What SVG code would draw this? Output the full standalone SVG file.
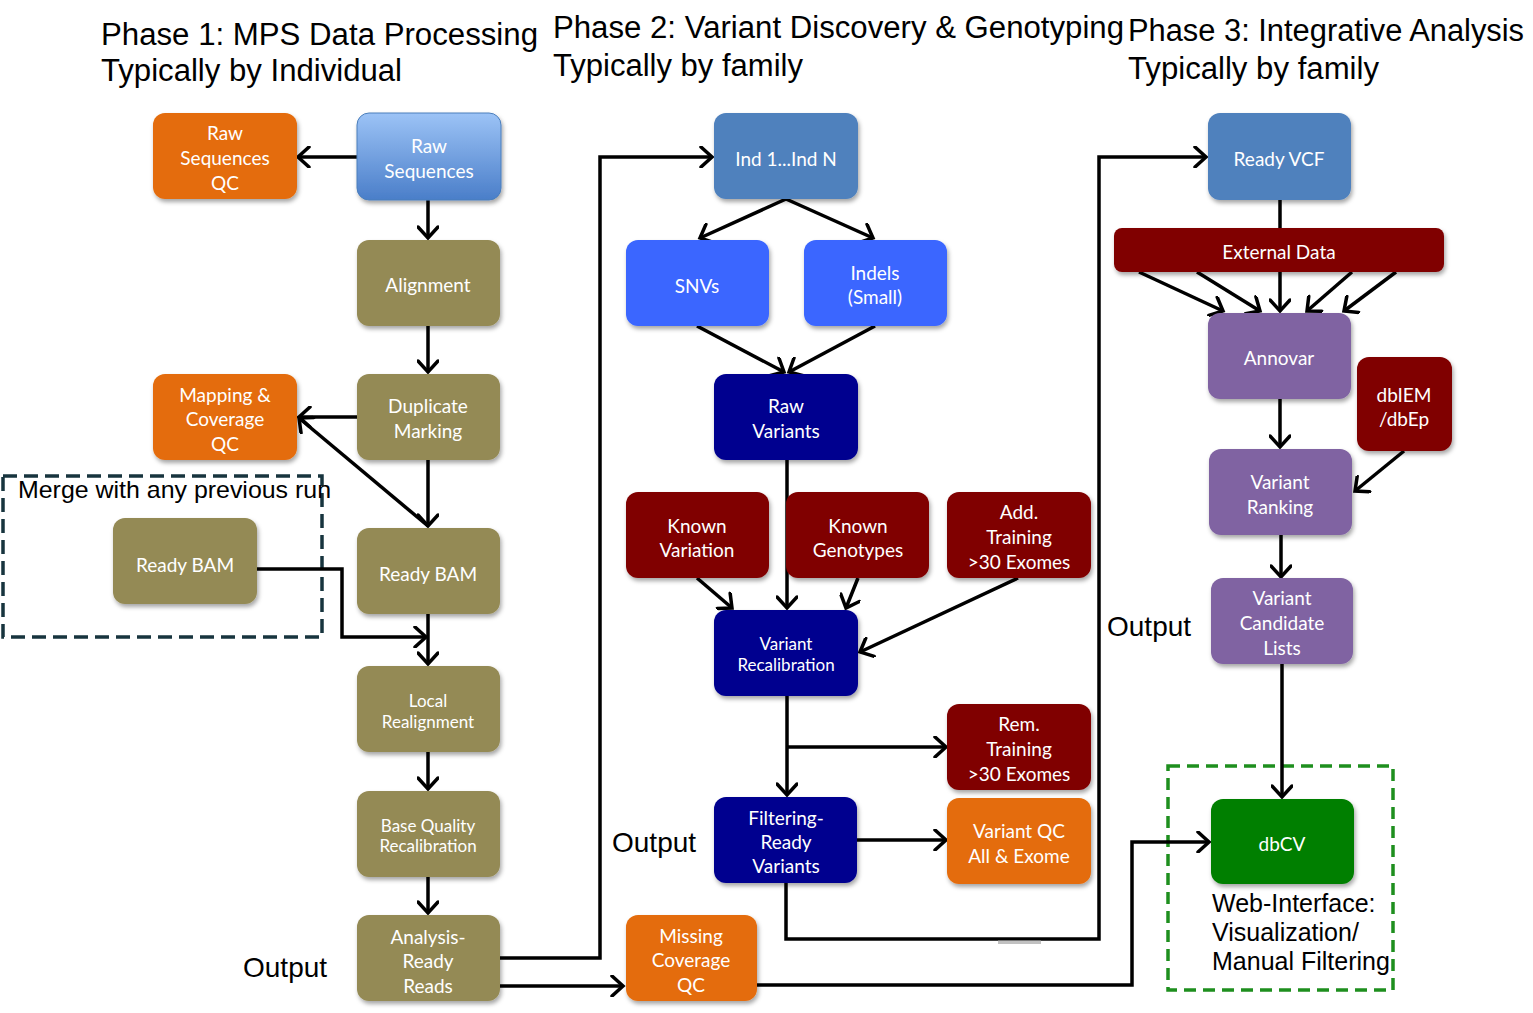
<svg xmlns="http://www.w3.org/2000/svg" width="1533" height="1013" viewBox="0 0 1533 1013">
<style>
.t{font-family:Lato,"Open Sans","Liberation Sans",sans-serif;fill:#fff;text-anchor:middle;font-size:19px}
.s{font-size:17px}
.ttl{font-family:"Liberation Sans",Arial,sans-serif;font-size:31px;fill:#000}
.lbl{font-family:"Liberation Sans",Arial,sans-serif;font-size:28px;fill:#000}
.web{font-family:"Liberation Sans",Arial,sans-serif;font-size:25px;fill:#000}
.bx{filter:url(#sh)}
.or{fill:#E46C0A}.ol{fill:#948A54}.bl{fill:#4F81BD}.br{fill:#3A66FF}.nv{fill:#00008F}.mr{fill:#800000}.pu{fill:#8064A2}.gr{fill:#007F00}
.c{fill:none;stroke:#000;stroke-width:3.5;marker-end:url(#ah)}
.cn{fill:none;stroke:#000;stroke-width:3.5}
</style>
<defs>
<marker id="ah" viewBox="0 0 16 22" refX="13" refY="11" markerWidth="16" markerHeight="22" markerUnits="userSpaceOnUse" orient="auto">
<path d="M2,1 L13,11 L2,21" fill="none" stroke="#000" stroke-width="3.5" stroke-linecap="round" stroke-linejoin="miter"/>
</marker>
<filter id="sh" x="-10%" y="-10%" width="125%" height="130%">
<feDropShadow dx="1.5" dy="3" stdDeviation="2" flood-color="#000" flood-opacity="0.35"/>
</filter>
<linearGradient id="g1" x1="0" y1="0" x2="0" y2="1">
<stop offset="0" stop-color="#9CC3F6"/>
<stop offset="1" stop-color="#4A7EC9"/>
</linearGradient>
</defs>
<rect width="1533" height="1013" fill="#fff"/>

<g id="titles">
<text class="ttl" x="101" y="45" textLength="437" lengthAdjust="spacingAndGlyphs">Phase 1: MPS Data Processing</text>
<text class="ttl" x="101" y="81" textLength="301" lengthAdjust="spacingAndGlyphs">Typically by Individual</text>
<text class="ttl" x="553" y="38" textLength="571" lengthAdjust="spacingAndGlyphs">Phase 2: Variant Discovery &amp; Genotyping</text>
<text class="ttl" x="553" y="76" textLength="250" lengthAdjust="spacingAndGlyphs">Typically by family</text>
<text class="ttl" x="1128" y="41" textLength="396" lengthAdjust="spacingAndGlyphs">Phase 3: Integrative Analysis</text>
<text class="ttl" x="1128" y="79" textLength="251" lengthAdjust="spacingAndGlyphs">Typically by family</text>
<text class="lbl" x="243" y="977">Output</text>
<text class="lbl" x="612" y="852">Output</text>
<text class="lbl" x="1107" y="636">Output</text>
</g>

<g id="merge-group">
<rect x="3" y="476" width="319" height="161" fill="none" stroke="#17343E" stroke-width="3.5" stroke-dasharray="14 7"/>
<text x="18" y="498" font-family="Liberation Sans, Arial, sans-serif" font-size="24" textLength="313" lengthAdjust="spacingAndGlyphs">Merge with any previous run</text>
</g>
<g id="web-group">
<rect x="1168" y="766" width="225" height="224" fill="none" stroke="#1E8F1E" stroke-width="3.5" stroke-dasharray="12 7"/>
<text class="web" x="1212" y="912">Web-Interface:</text>
<text class="web" x="1212" y="941">Visualization/</text>
<text class="web" x="1212" y="970">Manual Filtering</text>
</g>

<g id="connectors">
<path class="c" d="M357,157 H298"/>
<path class="c" d="M428,200 V238"/>
<path class="c" d="M428,326 V372"/>
<path class="c" d="M357,417 H299"/>
<path class="c" d="M428,460 V526"/>
<path class="c" d="M428,526 L299,418"/>
<path class="c" d="M257,569 H342 V637 H426"/>
<path class="c" d="M428,614 V664"/>
<path class="c" d="M428,752 V789"/>
<path class="c" d="M428,877 V913"/>
<path class="c" d="M500,958 H600 V157 H712"/>
<path class="c" d="M500,986 H623"/>
<path class="c" d="M757,985 H1132 V842 H1209"/>
<path class="c" d="M786,199 L700,238"/>
<path class="c" d="M786,199 L873,238"/>
<path class="c" d="M697,326 L784,372"/>
<path class="c" d="M875,326 L789,372"/>
<path class="c" d="M787,460 V608"/>
<path class="c" d="M697,578 L732,608"/>
<path class="c" d="M858,578 L846,608"/>
<path class="c" d="M1018,578 L860,652"/>
<path class="c" d="M787,696 V795"/>
<path class="c" d="M787,747 H946"/>
<path class="c" d="M857,840 H946"/>
<path class="c" d="M786,883 V939 H1099 V157 H1206"/>
<path d="M998,942 H1041" stroke="#999" stroke-width="4" opacity="0.6"/>
<path class="cn" d="M1280,200 V228"/>
<path class="c" d="M1139,272 L1223,311"/>
<path class="c" d="M1197,272 L1260,311"/>
<path class="c" d="M1280,272 V311"/>
<path class="c" d="M1352,272 L1307,311"/>
<path class="c" d="M1396,272 L1344,311"/>
<path class="c" d="M1280,399 V447"/>
<path class="c" d="M1404,451 L1355,491"/>
<path class="c" d="M1281,535 V577"/>
<path class="c" d="M1282,664 V797"/>
</g>

<g id="raw-seq-qc"><rect class="bx or" x="153" y="113" width="144" height="86" rx="12"/>
<text class="t" x="225" y="140">Raw</text><text class="t" x="225" y="165">Sequences</text><text class="t" x="225" y="190">QC</text></g>
<g id="raw-seq"><rect class="bx" x="357" y="113" width="144" height="87" rx="12" fill="url(#g1)" stroke="#4A7EBB" stroke-width="1"/>
<text class="t" x="429" y="153">Raw</text><text class="t" x="429" y="178">Sequences</text></g>
<g id="alignment"><rect class="bx ol" x="357" y="240" width="143" height="86" rx="12"/>
<text class="t" x="428" y="292">Alignment</text></g>
<g id="mapping-qc"><rect class="bx or" x="153" y="374" width="144" height="86" rx="12"/>
<text class="t" x="225" y="402">Mapping &amp;</text><text class="t" x="225" y="426">Coverage</text><text class="t" x="225" y="451">QC</text></g>
<g id="dup-marking"><rect class="bx ol" x="357" y="374" width="143" height="86" rx="12"/>
<text class="t" x="428" y="413">Duplicate</text><text class="t" x="428" y="438">Marking</text></g>
<g id="ready-bam"><rect class="bx ol" x="357" y="528" width="143" height="86" rx="12"/>
<text class="t" x="428" y="581">Ready BAM</text></g>
<g id="ready-bam-prev"><rect class="bx ol" x="113" y="518" width="144" height="86" rx="12"/>
<text class="t" x="185" y="572">Ready BAM</text></g>
<g id="local-realign"><rect class="bx ol" x="357" y="666" width="143" height="86" rx="12"/>
<text class="t s" x="428" y="707">Local</text><text class="t s" x="428" y="728">Realignment</text></g>
<g id="base-recal"><rect class="bx ol" x="357" y="791" width="143" height="86" rx="12"/>
<text class="t s" x="428" y="832">Base Quality</text><text class="t s" x="428" y="852">Recalibration</text></g>
<g id="analysis-ready"><rect class="bx ol" x="357" y="915" width="143" height="86" rx="12"/>
<text class="t" x="428" y="944">Analysis-</text><text class="t" x="428" y="968">Ready</text><text class="t" x="428" y="993">Reads</text></g>

<g id="ind"><rect class="bx bl" x="714" y="113" width="144" height="86" rx="12"/>
<text class="t" x="786" y="166">Ind 1...Ind N</text></g>
<g id="snvs"><rect class="bx br" x="626" y="240" width="143" height="86" rx="12"/>
<text class="t" x="697" y="293">SNVs</text></g>
<g id="indels"><rect class="bx br" x="804" y="240" width="143" height="86" rx="12"/>
<text class="t" x="875" y="280">Indels</text><text class="t" x="875" y="304">(Small)</text></g>
<g id="raw-variants"><rect class="bx nv" x="714" y="374" width="144" height="86" rx="12"/>
<text class="t" x="786" y="413">Raw</text><text class="t" x="786" y="438">Variants</text></g>
<g id="known-variation"><rect class="bx mr" x="626" y="492" width="143" height="86" rx="12"/>
<text class="t" x="697" y="533">Known</text><text class="t" x="697" y="557">Variation</text></g>
<g id="known-genotypes"><rect class="bx mr" x="786" y="492" width="143" height="86" rx="12"/>
<text class="t" x="858" y="533">Known</text><text class="t" x="858" y="557">Genotypes</text></g>
<g id="add-training"><rect class="bx mr" x="947" y="492" width="144" height="86" rx="12"/>
<text class="t" x="1019" y="519">Add.</text><text class="t" x="1019" y="544">Training</text><text class="t" x="1019" y="569">&gt;30 Exomes</text></g>
<g id="variant-recal"><rect class="bx nv" x="714" y="610" width="144" height="86" rx="12"/>
<text class="t s" x="786" y="650">Variant</text><text class="t s" x="786" y="671">Recalibration</text></g>
<g id="rem-training"><rect class="bx mr" x="947" y="704" width="144" height="86" rx="12"/>
<text class="t" x="1019" y="731">Rem.</text><text class="t" x="1019" y="756">Training</text><text class="t" x="1019" y="781">&gt;30 Exomes</text></g>
<g id="filtering-ready"><rect class="bx nv" x="714" y="797" width="143" height="86" rx="12"/>
<text class="t" x="786" y="825">Filtering-</text><text class="t" x="786" y="849">Ready</text><text class="t" x="786" y="873">Variants</text></g>
<g id="variant-qc"><rect class="bx or" x="947" y="798" width="144" height="86" rx="12"/>
<text class="t" x="1019" y="838">Variant QC</text><text class="t" x="1019" y="863">All &amp; Exome</text></g>
<g id="missing-coverage"><rect class="bx or" x="626" y="915" width="131" height="86" rx="12"/>
<text class="t" x="691" y="943">Missing</text><text class="t" x="691" y="967">Coverage</text><text class="t" x="691" y="992">QC</text></g>

<g id="ready-vcf"><rect class="bx bl" x="1208" y="113" width="143" height="87" rx="12"/>
<text class="t" x="1279" y="166">Ready VCF</text></g>
<g id="external-data"><rect class="bx mr" x="1114" y="228" width="330" height="44" rx="8"/>
<text class="t" x="1279" y="259">External Data</text></g>
<g id="annovar"><rect class="bx pu" x="1208" y="313" width="143" height="86" rx="12"/>
<text class="t" x="1279" y="365">Annovar</text></g>
<g id="dbiem"><rect class="bx mr" x="1357" y="357" width="95" height="94" rx="12"/>
<text class="t" x="1404" y="402">dbIEM</text><text class="t" x="1404" y="426">/dbEp</text></g>
<g id="variant-ranking"><rect class="bx pu" x="1209" y="449" width="143" height="86" rx="12"/>
<text class="t" x="1280" y="489">Variant</text><text class="t" x="1280" y="514">Ranking</text></g>
<g id="candidate-lists"><rect class="bx pu" x="1211" y="578" width="142" height="86" rx="12"/>
<text class="t" x="1282" y="605">Variant</text><text class="t" x="1282" y="630">Candidate</text><text class="t" x="1282" y="655">Lists</text></g>
<g id="dbcv"><rect class="bx gr" x="1211" y="799" width="143" height="85" rx="12"/>
<text class="t" x="1282" y="851">dbCV</text></g>
</svg>
